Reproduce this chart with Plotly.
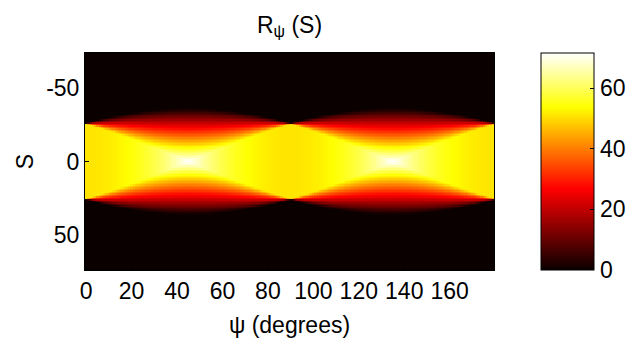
import numpy as np
import plotly.graph_objects as go

# Radon transform R_psi(S) of a centred square phantom
psi_deg = list(range(0, 180))          # projection angles (degrees)
s_offset = list(range(-73, 74))        # signed distance S
square_half_side = 25.5                # half side of the square phantom
x_ticks = [0, 20, 40, 60, 80, 100, 120, 140, 160]
y_ticks = [-50, 0, 50]
y_tick_text = ["-50", "0", "50"]
cbar_ticks = [0, 20, 40, 60]

def projection(psi, s_vals, a):
    t = np.deg2rad(psi)
    c, d = abs(np.cos(t)), abs(np.sin(t))
    hi, lo = max(c, d), min(c, d)
    u1, u2 = a * (hi - lo), a * (hi + lo)
    plateau = 2 * a / hi
    sub = np.linspace(-0.45, 0.45, 10)
    ss = np.abs(np.asarray(s_vals, float)[:, None] + sub[None, :])
    if u2 - u1 < 1e-9:
        ramp = np.zeros_like(ss)
    else:
        ramp = plateau * (u2 - ss) / (u2 - u1)
    val = np.where(ss <= u1, plateau, np.where(ss < u2, ramp, 0.0))
    return val.mean(axis=1)

Z = np.column_stack([projection(p, s_offset, square_half_side) for p in psi_deg])
zmax = float(Z.max())

hot = [[0.0, "rgb(10,0,0)"], [0.375, "rgb(255,0,0)"],
       [0.75, "rgb(255,255,0)"], [1.0, "rgb(255,255,255)"]]

font = dict(family="Liberation Sans, Arial, sans-serif", size=23, color="black")

W, H = 629, 340
ML, MR, MT, MB = 85, 135, 53, 70
plot_w = W - ML - MR
cb_left_px = 541
cb_thick = 53
cb_x = (cb_left_px - ML) / plot_w
label_x = (cb_left_px + cb_thick + 4 - ML) / plot_w

fig = go.Figure(go.Heatmap(
    x=psi_deg, y=s_offset, z=Z, colorscale=hot, zmin=0, zmax=zmax,
    colorbar=dict(
        x=cb_x, xanchor="left", xpad=0, y=0.5, yanchor="middle", ypad=0,
        len=1.0, lenmode="fraction", thickness=cb_thick, thicknessmode="pixels",
        outlinecolor="black", outlinewidth=1,
        tickvals=cbar_ticks, ticks="inside", ticklen=4, tickcolor="black",
        showticklabels=False,
    ),
))

for v in cbar_ticks:
    fig.add_annotation(
        x=label_x, y=v / zmax, xref="paper", yref="paper",
        xanchor="left", yanchor="middle", text=str(v), showarrow=False,
        font=font,
    )

fig.update_layout(
    width=W, height=H,
    margin=dict(l=ML, r=MR, t=MT, b=MB),
    paper_bgcolor="white", plot_bgcolor="white",
    font=font,
    title=dict(text="R<sub>ψ</sub> (S)", x=0.5, xref="paper", xanchor="center",
               y=0.928, yref="container", yanchor="middle", font=font),
)
fig.update_xaxes(
    range=[-0.5, 179.5], tickvals=x_ticks, ticks="inside", ticklen=4,
    tickcolor="black", showline=True, linecolor="black", linewidth=1,
    mirror=True, showgrid=False, zeroline=False, tickfont=font,
    automargin=False,
    title=dict(text="ψ (degrees)", font=font, standoff=14),
)
fig.update_yaxes(
    range=[73.5, -73.5], tickvals=y_ticks, ticktext=y_tick_text,
    ticks="inside", ticklen=4,
    tickcolor="black", showline=True, linecolor="black", linewidth=1,
    mirror=True, showgrid=False, zeroline=False, tickfont=font,
    automargin=False,
    title=dict(text="S", font=font, standoff=6),
)

fig.write_html("out.html")
